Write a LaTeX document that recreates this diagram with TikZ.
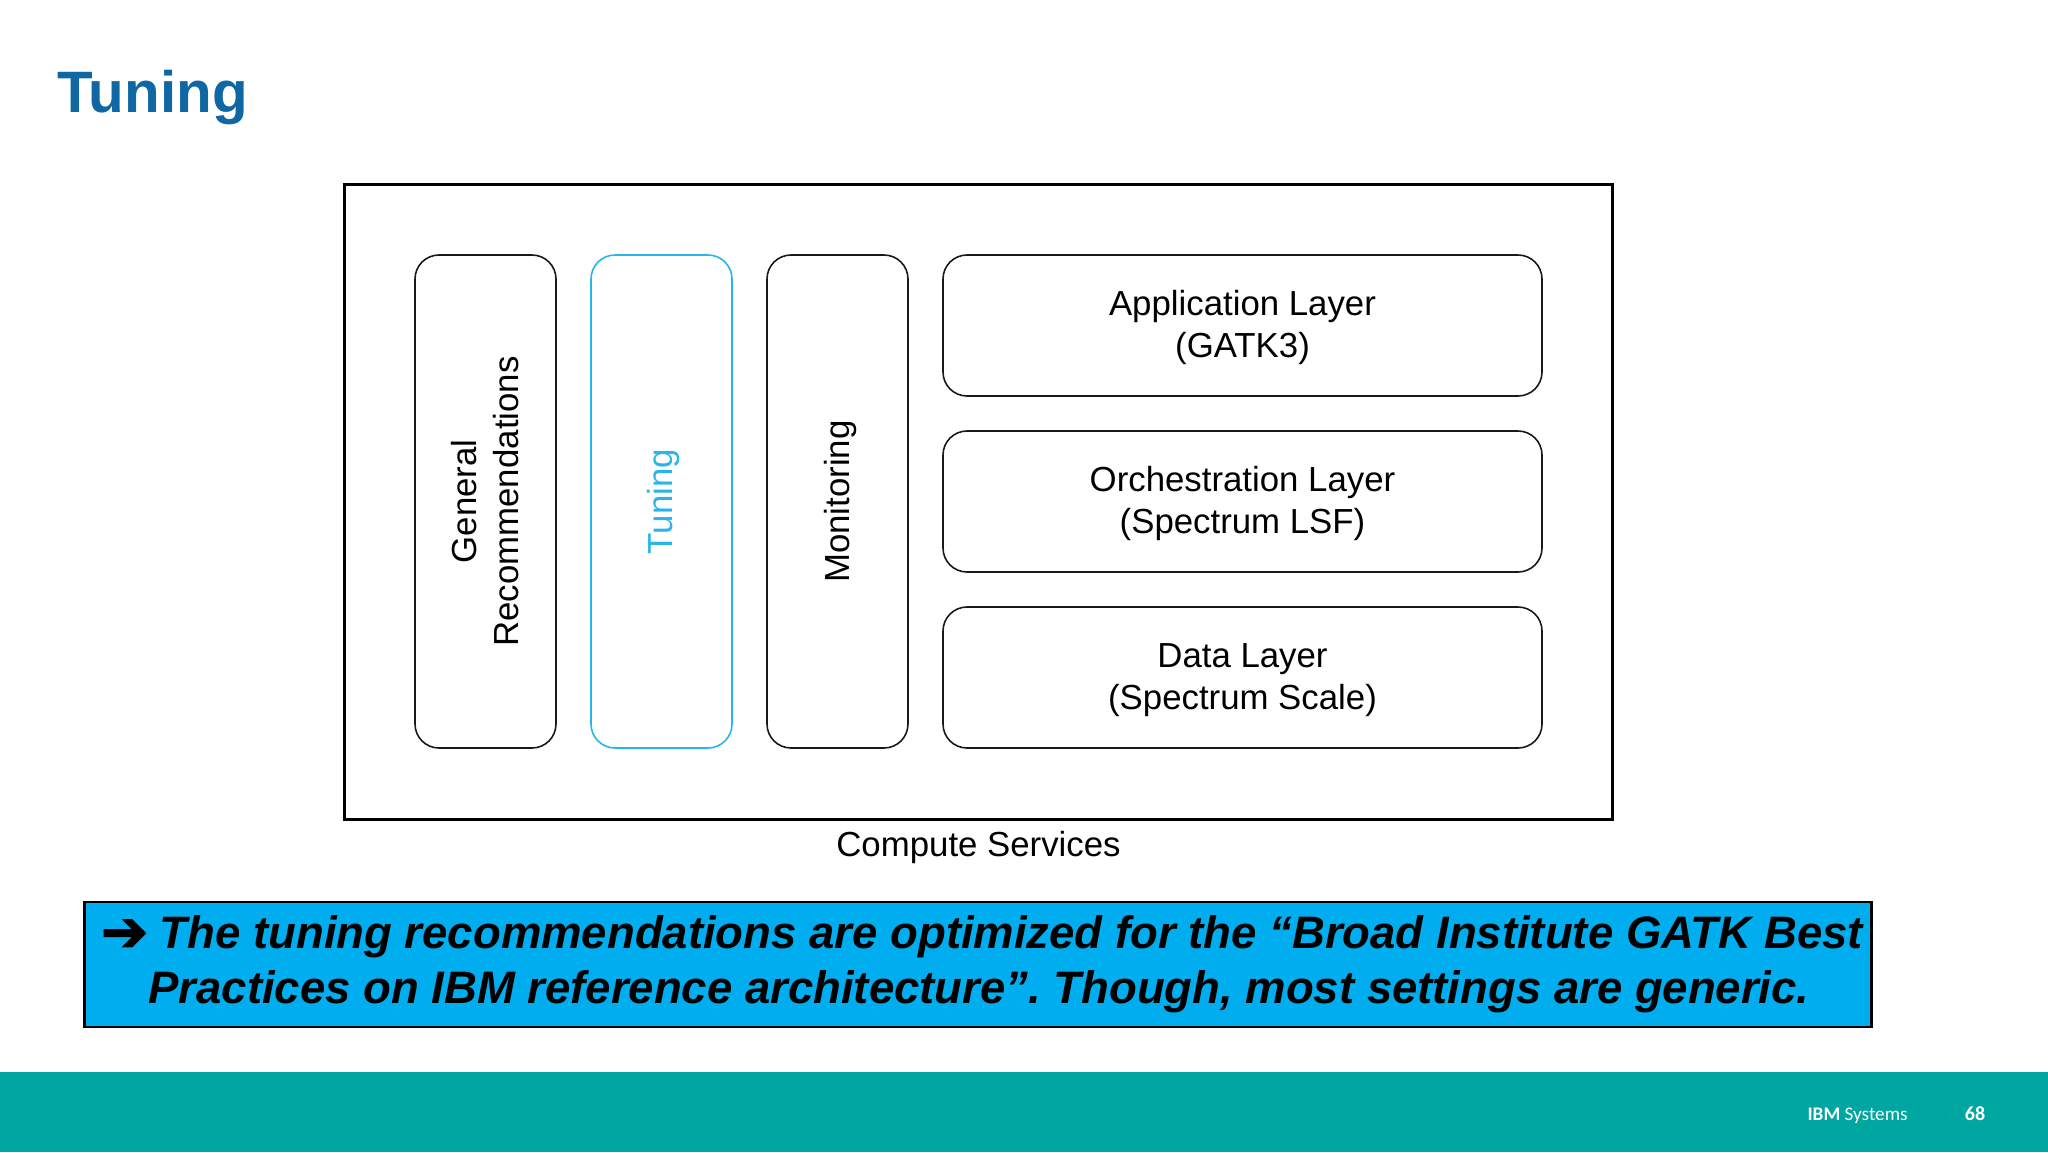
\documentclass[tikz,border=0pt]{standalone}
\usepackage{fontspec}
\setmainfont{Liberation Sans}
\newfontfamily\carlito{Carlito}
\newfontfamily\djv[FakeBold=2.5]{DejaVu Sans}
\definecolor{titleblue}{HTML}{0F68A3}
\definecolor{tunecyan}{HTML}{29B5E8}
\definecolor{bannerblue}{HTML}{00AEEF}
\definecolor{footteal}{HTML}{00A6A0}
\definecolor{footrule}{HTML}{1A8FA5}
\tikzset{
  x=0.5pt,y=-0.5pt,
  layer/.style={draw=black!90,line width=0.8pt,rounded corners=12pt,inner sep=0pt},
  sidebar/.style={layer,minimum width=70.5pt,minimum height=246.5pt},
  rowbox/.style={layer,minimum width=299.5pt,minimum height=70.5pt},
  boxtext/.style={inner sep=0pt,align=center,font=\fontsize{17.4}{21}\selectfont},
  sidetext/.style={boxtext,rotate=90},
}
\begin{document}
\frenchspacing
\begin{tikzpicture}
\useasboundingbox (0,0) rectangle (2048,1152);
\fill[white] (0,0) rectangle (2048,1152);
\node[anchor=base west,inner sep=0pt,font=\fontsize{29.2}{35}\selectfont\bfseries,text=titleblue] (title) at (57,112) {Tuning};
% outer box
\node[draw=black,line width=1.5pt,minimum width=634pt,minimum height=317.5pt,inner sep=0pt] (outer) at (978.5,501.5) {};
\node[anchor=base,inner sep=0pt,font=\fontsize{17.4}{21}\selectfont] (compute) at (978.5,856) {Compute Services};
% columns
\node[sidebar] (general) at (485.5,501.5) {};
\node[sidebar,draw=tunecyan] (tuning) at (661.5,501.5) {};
\node[sidebar] (monitor) at (837.5,501.5) {};
\node[sidetext] (generalt) at (485,501.5) {General\\Recommendations};
\node[sidetext,text=tunecyan] (tuningt) at (663.5,501.5) {Tuning};
\node[sidetext] (monitort) at (840,501.5) {Monitoring};
% rows
\node[rowbox] (app) at (1242.5,325.5) {};
\node[rowbox] (orch) at (1242.5,501.5) {};
\node[rowbox] (data) at (1242.5,677.5) {};
\node[boxtext] (appt) at (1242.5,327) {Application Layer\\(GATK3)};
\node[boxtext] (orcht) at (1242.5,503.5) {Orchestration Layer\\(Spectrum LSF)};
\node[boxtext] (datat) at (1242.5,680.5) {Data Layer\\(Spectrum Scale)};
% banner
\node[draw=black,line width=1.25pt,fill=bannerblue,minimum width=893.5pt,minimum height=62.5pt,inner sep=0pt] (banner) at (978,964.5) {};
\node[align=center,inner sep=0pt,font=\fontsize{22.75}{27.5}\selectfont\bfseries\itshape] (bannertext) at (979,964.5) {\raisebox{-1pt}{\djv\upshape\fontsize{28}{28}\selectfont ➔}\hspace{-0.5pt} The tuning recommendations are optimized for the “Broad Institute GATK Best\hspace*{-3pt}\\Practices on IBM reference architecture”. Though, most settings are generic.};
% footer
\fill[footteal] (0,1072) rectangle (2048,1152);
\draw[footrule,line width=0.5pt] (1945,1108) -- (1945,1123);
\node[anchor=base east,inner sep=0pt,text=white,font=\carlito\fontsize{9.6}{12}\selectfont] (brand) at (1908,1120.5) {\textbf{IBM} Systems};
\node[anchor=base,inner sep=0pt,text=white,font=\carlito\fontsize{10}{12}\selectfont\bfseries] (page) at (1975,1120) {68};
\end{tikzpicture}
\end{document}
